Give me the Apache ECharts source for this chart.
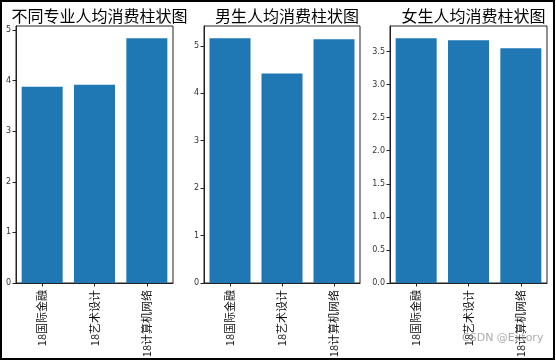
<!DOCTYPE html>
<html>
<head>
<meta charset="utf-8">
<script src="https://cdn.jsdelivr.net/npm/echarts@6/dist/echarts.min.js"></script>
<style>
html,body{margin:0;padding:0;background:#fff;}
#c{width:556px;height:362px;}
</style>
</head>
<body>
<div id="c"></div>
<script>
// ---- data ----
var categories = ['18国际金融', '18艺术设计', '18计算机网络'];
var titles = ['不同专业人均消费柱状图', '男生人均消费柱状图', '女生人均消费柱状图'];
var allValues = [3.88, 3.92, 4.84];
var maleValues = [5.16, 4.42, 5.14];
var femaleValues = [3.70, 3.67, 3.55];
var ticks1 = [0, 1, 2, 3, 4, 5];
var ticks2 = [0, 1, 2, 3, 4, 5];
var ticks3 = [0, 0.5, 1, 1.5, 2, 2.5, 3, 3.5];
var yMax = [5.08, 5.42, 3.885];
var watermark = 'CSDN @Extory';

var seriesValues = [allValues, maleValues, femaleValues];
var tickSets = [ticks1, ticks2, ticks3];
var decimals = [0, 0, 1];

// ---- layout ----
var grids = [
  {left: 16, width: 157, top: 26, height: 257},
  {left: 204, width: 156, top: 26, height: 257},
  {left: 390, width: 157, top: 26, height: 257}
];
var CJK = '"Noto Sans CJK SC", "Noto Sans", sans-serif';

var chart = echarts.init(document.getElementById('c'), null, {renderer: 'canvas'});

var option = {
  animation: false,
  backgroundColor: '#fff',
  title: titles.map(function (t, i) {
    return {
      text: t,
      left: grids[i].left + grids[i].width / 2,
      textAlign: 'center',
      top: 3,
      textStyle: {fontFamily: CJK, fontSize: 16, fontWeight: 'normal', color: '#000'}
    };
  }),
  grid: grids.map(function (g) {
    return Object.assign({show: true, borderColor: '#222', borderWidth: 1, containLabel: false}, g);
  }),
  xAxis: grids.map(function (g, i) {
    return {
      type: 'category',
      gridIndex: i,
      data: categories,
      axisLine: {lineStyle: {color: '#222', width: 1}},
      axisTick: {show: true, alignWithLabel: true, length: 3.5, lineStyle: {color: '#222'}},
      axisLabel: {rotate: 90, margin: 7, fontFamily: CJK, fontSize: 11, color: '#111', interval: 0}
    };
  }),
  yAxis: grids.map(function (g, i) {
    return {
      type: 'value',
      gridIndex: i,
      min: 0,
      max: yMax[i],
      splitLine: {show: false},
      axisLine: {show: true, lineStyle: {color: '#222', width: 1}},
      axisTick: {show: true, length: 3.5, lineStyle: {color: '#222'}, customValues: tickSets[i]},
      axisLabel: {
        margin: 5,
        fontFamily: 'DejaVu Sans, sans-serif',
        fontSize: 8,
        color: '#333',
        customValues: tickSets[i],
        formatter: (function (d) { return function (v) { return Number(v).toFixed(d); }; })(decimals[i])
      }
    };
  }),
  series: seriesValues.map(function (vals, i) {
    return {
      type: 'bar',
      xAxisIndex: i,
      yAxisIndex: i,
      data: vals,
      barWidth: 41,
      itemStyle: {color: '#1f77b4'}
    };
  }),
  graphic: [
    {
      type: 'text',
      left: 462,
      top: 333,
      z: 100,
      style: {text: watermark, fontFamily: 'DejaVu Sans, sans-serif', fontSize: 11, fill: 'rgba(150,150,150,0.8)'}
    },
    {
      type: 'rect',
      shape: {x: 1, y: 1, width: 553, height: 358},
      z: 100,
      style: {fill: 'none', stroke: '#000', lineWidth: 2}
    }
  ]
};
chart.setOption(option);
</script>
</body>
</html>
